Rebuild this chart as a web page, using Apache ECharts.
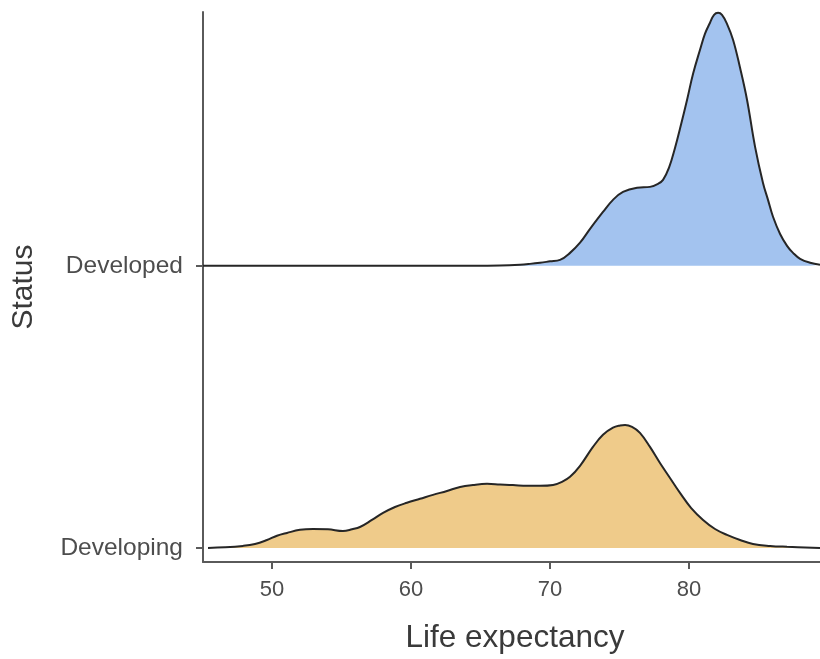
<!DOCTYPE html>
<html>
<head>
<meta charset="utf-8">
<script src="https://cdn.jsdelivr.net/npm/echarts@6/dist/echarts.min.js"></script>
<style>
  html, body { margin: 0; padding: 0; background: #ffffff; }
  #chart { width: 820px; height: 659px; }
</style>
</head>
<body>
<div id="chart"></div>
<script>
// Ridge groups, bottom to top
const groups = ['Developing', 'Developed'];

// Density ridge for developing countries: life expectancy vs ridge height
const developingX = [45.40, 46.62, 47.91, 48.78, 49.64, 50.36, 51.08, 52.01, 52.95, 54.03,
                     55.11, 55.76, 56.33, 57.19, 57.99, 58.85, 59.71, 60.65, 61.58, 62.59,
                     63.53, 64.46, 65.47, 66.40, 67.34, 68.35, 69.28, 70.22, 70.86, 71.44,
                     72.16, 73.09, 73.81, 74.53, 75.04, 75.40, 75.90, 76.47, 77.19, 77.91,
                     78.63, 79.35, 80.14, 81.01, 81.87, 82.73, 83.67, 84.60, 85.83, 87.05,
                     89.42];
const developingH = [0.000, 0.002, 0.007, 0.014, 0.028, 0.043, 0.053, 0.064, 0.067, 0.066,
                     0.060, 0.066, 0.074, 0.099, 0.124, 0.145, 0.160, 0.174, 0.188, 0.202,
                     0.216, 0.223, 0.227, 0.225, 0.223, 0.220, 0.220, 0.223, 0.234, 0.252,
                     0.291, 0.358, 0.401, 0.426, 0.434, 0.436, 0.429, 0.408, 0.358, 0.301,
                     0.248, 0.195, 0.142, 0.099, 0.067, 0.046, 0.028, 0.014, 0.007, 0.004,
                     0.000];

// Density ridge for developed countries
const developedX = [45.04, 60.00, 64.50, 66.40, 67.84, 68.56, 69.28, 70.00, 70.72, 71.44,
                    72.16, 72.88, 73.81, 74.53, 75.25, 76.26, 77.19, 77.77, 78.13, 78.56,
                    78.99, 79.42, 79.86, 80.29, 80.79, 81.15, 81.51, 81.80, 82.09, 82.37,
                    82.73, 83.17, 83.67, 84.17, 84.75, 85.32, 85.68, 86.04, 86.55, 87.05,
                    87.48, 87.99, 88.71, 89.42];
const developedH = [0.000, 0.000, 0.000, 0.001, 0.004, 0.007, 0.011, 0.016, 0.021, 0.046,
                    0.082, 0.131, 0.191, 0.234, 0.262, 0.277, 0.280, 0.291, 0.305, 0.348,
                    0.418, 0.500, 0.589, 0.681, 0.766, 0.823, 0.862, 0.890, 0.897, 0.890,
                    0.858, 0.801, 0.702, 0.589, 0.422, 0.294, 0.234, 0.174, 0.113, 0.071,
                    0.046, 0.025, 0.011, 0.004];

const xTicks = [50, 60, 70, 80];
const fillColors = ['#efcb8a', '#a3c3ef'];

function ridge(xs, hs, base) {
  return xs.map((x, i) => [x, base + hs[i]]);
}

const chart = echarts.init(document.getElementById('chart'), null, { renderer: 'canvas' });

const axisLineStyle = { color: '#5a5a5a', width: 2 };
const textFont = '"Liberation Sans", Arial, sans-serif';

const ridgeData = [
  { x: developingX, h: developingH },
  { x: developedX, h: developedH }
];

chart.setOption({
  animation: false,
  backgroundColor: '#ffffff',
  grid: { left: 203, right: 0, top: 12, bottom: 97, containLabel: false },
  xAxis: {
    type: 'value',
    min: 45.04,
    max: 89.42,
    name: 'Life expectancy',
    nameLocation: 'middle',
    nameGap: 60,
    nameTextStyle: { fontFamily: textFont, fontSize: 31.5, color: '#3a3a3a', padding: [0, 0, 0, 7] },
    axisLine: { show: true, onZero: false, lineStyle: axisLineStyle },
    axisTick: { show: true, length: 7, lineStyle: axisLineStyle, customValues: xTicks },
    axisLabel: { fontFamily: textFont, fontSize: 22, color: '#4d4d4d', margin: 17, customValues: xTicks },
    splitLine: { show: false }
  },
  yAxis: {
    type: 'value',
    min: -0.05,
    max: 1.9,
    name: 'Status',
    nameLocation: 'middle',
    nameGap: 164,
    nameTextStyle: { fontFamily: textFont, fontSize: 30, color: '#3a3a3a' },
    axisLine: { show: true, onZero: false, lineStyle: axisLineStyle },
    axisTick: { show: true, length: 7, lineStyle: axisLineStyle, customValues: [0, 1] },
    axisLabel: {
      fontFamily: textFont, fontSize: 24.5, color: '#4d4d4d', margin: 20,
      customValues: [0, 1],
      formatter: v => groups[Math.round(v)] || ''
    },
    splitLine: { show: false }
  },
  series: ridgeData.map((r, i) => ({
    name: groups[i],
    type: 'line',
    data: ridge(r.x, r.h, i),
    smooth: 0.4,
    symbol: 'none',
    lineStyle: { color: '#262626', width: 2 },
    areaStyle: { color: fillColors[i], opacity: 1, origin: i },
    z: 2 + i
  }))
});
</script>
</body>
</html>
